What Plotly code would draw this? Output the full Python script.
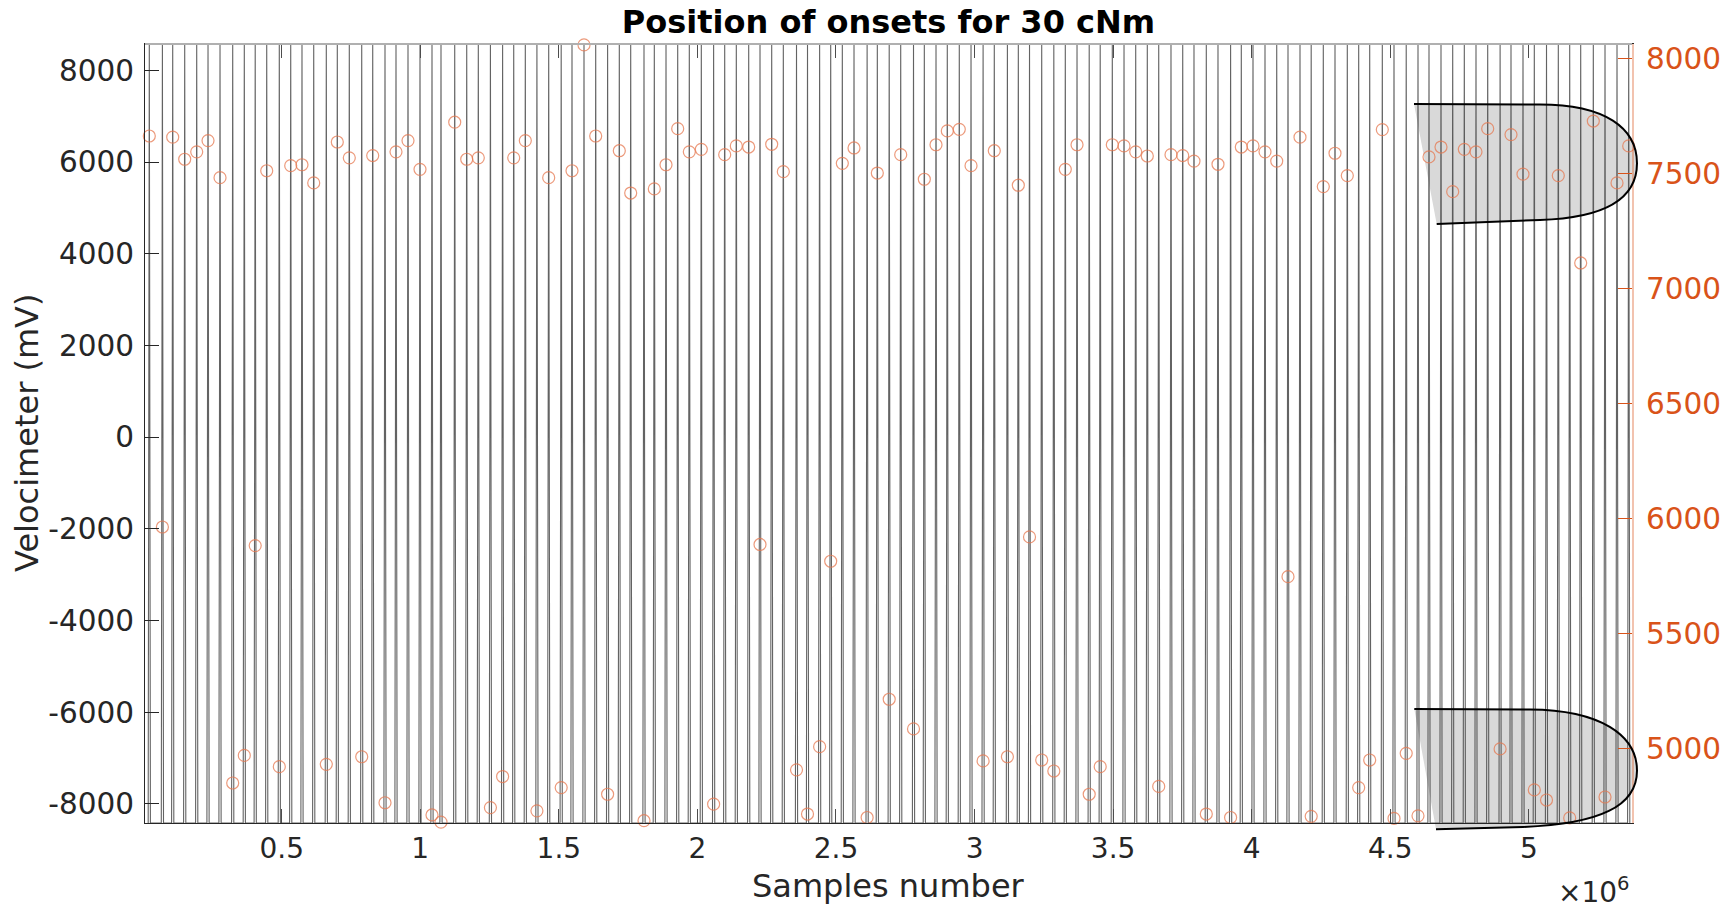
import plotly.graph_objects as go

# ---------------- data ----------------
# sample index of each detected onset (one per velocimeter cycle)
onset_samples = [
    22200, 69500, 106700, 150000, 193300, 234100, 277400, 323200, 365000, 404400,
    445900, 491300, 532500, 573200, 615500, 660900, 700600, 743900, 788700, 828400,
    872700, 912400, 955700, 999000, 1042300, 1074800, 1124300, 1167600, 1209400, 1253100,
    1297100, 1337200, 1379000, 1420900, 1463400, 1508500, 1547500, 1590800, 1633000, 1676000,
    1718200, 1759300, 1807300, 1844500, 1886700, 1928900, 1970800, 2014100, 2058500, 2098500,
    2140400, 2185100, 2225900, 2268100, 2310000, 2357600, 2397300, 2441000, 2481000, 2522900,
    2565100, 2612400, 2649200, 2692100, 2733600, 2779800, 2818800, 2861000, 2901700, 2945000,
    2987300, 3030900, 3071300, 3118600, 3158000, 3198400, 3242400, 3286100, 3327500, 3369800,
    3413800, 3453500, 3497100, 3539400, 3581600, 3623400, 3664600, 3708900, 3751200, 3791900,
    3836300, 3878500, 3924000, 3962600, 4004800, 4048100, 4090400, 4131100, 4174400, 4214800,
    4258500, 4300700, 4345100, 4386200, 4425900, 4471400, 4513600, 4557700, 4600200, 4639900,
    4683200, 4725400, 4767300, 4809500, 4851700, 4896500, 4935800, 4979100, 5019900, 5063900,
    5106500, 5147600, 5187300, 5232800, 5275000, 5318300, 5360500,
]
# onset position value (right axis)
onset_values = [
    7662, 5962, 7657, 7561, 7593, 7642, 7481, 4849, 4969, 5881,
    7511, 4920, 7533, 7537, 7458, 4930, 7636, 7567, 4963, 7577,
    4763, 7593, 7642, 7517, 4710, 4679, 7722, 7561, 7567, 4742,
    4877, 7567, 7642, 4728, 7481, 4829, 7511, 8058, 7662, 4800,
    7598, 7414, 4685, 7432, 7537, 7694, 7593, 7604, 4757, 7581,
    7619, 7614, 5886, 7626, 7507, 4906, 4714, 5007, 5813, 7543,
    7610, 4699, 7501, 5213, 7581, 5084, 7474, 7624, 7684, 7691,
    7533, 4945, 7598, 4963, 7448, 5919, 4949, 4901, 7517, 7624,
    4800, 4920, 7624, 7619, 7593, 7575, 4834, 7581, 7577, 7553,
    4714, 7539, 4699, 7614, 7619, 7593, 7553, 5746, 7657, 4704,
    7442, 7587, 7490, 4829, 4949, 7690, 4695, 4978, 4706, 7571,
    7614, 7420, 7604, 7593, 7694, 4997, 7668, 7496, 4819, 4775,
    7490, 4697, 7110, 7727, 4788, 7458, 7619,
]
velo_min, velo_max = -8417, 8574          # velocimeter extremes (mV)
spike_half_width = 4000                   # samples, half width of each velocimeter stroke
x_range = [6700, 5372400]
right_range = [4675, 8062]
x_tick_vals = [500000, 1000000, 1500000, 2000000, 2500000, 3000000, 3500000, 4000000, 4500000, 5000000]
x_tick_text = ["0.5", "1", "1.5", "2", "2.5", "3", "3.5", "4", "4.5", "5"]
left_tick_vals = [-8000, -6000, -4000, -2000, 0, 2000, 4000, 6000, 8000]
left_tick_text = ["-8000", "-6000", "-4000", "-2000", "0", "2000", "4000", "6000", "8000"]
right_tick_vals = [5000, 5500, 6000, 6500, 7000, 7500, 8000]
right_tick_text = ["5000", "5500", "6000", "6500", "7000", "7500", "8000"]

# ---------------- velocimeter trace built from the onset cycles ----------------
sig_x, sig_y = [], []
for s in onset_samples:
    sig_x += [s - spike_half_width, s, s + spike_half_width]
    sig_y += [velo_min, velo_max, velo_min]

W, H = 1732, 911
PL, PR, PT, PB = 145, 1632, 44, 823
FONT = "DejaVu Sans"
ORANGE = "#D95319"


def px(x):
    return (x - PL) / (PR - PL)


def py(y):
    return (PB - y) / (PB - PT)


fig = go.Figure()
fig.add_trace(go.Scatter(
    x=sig_x, y=sig_y, mode="lines",
    line=dict(color="rgba(60,60,60,0.8)", width=1.1),
    hoverinfo="skip", showlegend=False,
))
fig.add_trace(go.Scatter(
    x=onset_samples, y=onset_values, mode="markers", yaxis="y2",
    marker=dict(symbol="circle-open", size=12, color="rgba(230,120,80,0.75)",
                line=dict(width=1.2)),
    cliponaxis=False, showlegend=False,
))


def pathstr(pts, close):
    out = []
    for cmd, p in pts:
        out.append(cmd + " " + " ".join(f"{px(a):.5f},{py(b):.5f}" for a, b in p))
    s = " ".join(out)
    return s + (" Z" if close else "")


blobs = [
    [("M", [(1414, 104)]), ("L", [(1540, 104.5)]),
     ("C", [(1605, 104.5), (1637, 128), (1637, 163.3)]),
     ("C", [(1637, 199), (1605, 218), (1540, 220)]), ("L", [(1436.7, 224)])],
    [("M", [(1414.3, 709)]), ("L", [(1530, 709.5)]),
     ("C", [(1600, 710), (1637, 735), (1637, 770.7)]),
     ("C", [(1637, 806), (1600, 824), (1523, 827)]), ("L", [(1436, 829.3)])],
]
shapes = []
for b in blobs:
    shapes.append(dict(type="path", xref="paper", yref="paper", path=pathstr(b, True),
                       fillcolor="#d9d9d9", line=dict(width=0), layer="below"))
    shapes.append(dict(type="path", xref="paper", yref="paper", path=pathstr(b, False),
                       fillcolor="rgba(0,0,0,0)", line=dict(color="black", width=2), layer="above"))
shapes.append(dict(type="line", xref="paper", yref="paper", x0=0, x1=1, y0=1, y1=1,
                   line=dict(color="#b0b0b0", width=2)))

fig.update_layout(
    width=W, height=H,
    margin=dict(l=PL, r=W - PR, t=PT, b=H - PB),
    paper_bgcolor="white", plot_bgcolor="white",
    font=dict(family=FONT, size=28, color="#262626"),
    title=dict(text="<b>Position of onsets for 30 cNm</b>", x=px((PL + PR) / 2), xref="paper",
               y=1 - 22 / H, yanchor="middle", xanchor="center",
               font=dict(family=FONT, size=32, color="black")),
    xaxis=dict(range=x_range, tickvals=x_tick_vals, ticktext=x_tick_text,
               ticks="inside", ticklen=14, tickcolor="#4d4d4d", showline=True,
               linecolor="#262626", linewidth=1, mirror="ticks", showgrid=False,
               zeroline=False, tickfont=dict(size=28, color="#262626")),
    yaxis=dict(range=[velo_min, velo_max], tickvals=left_tick_vals, ticktext=left_tick_text,
               ticks="inside", ticklen=14, tickcolor="#262626", showline=True,
               linecolor="#262626", linewidth=1, showgrid=False, zeroline=False,
               tickfont=dict(size=29.5, color="#262626"), ticklabelstandoff=4),
    yaxis2=dict(range=right_range, tickvals=right_tick_vals, ticktext=right_tick_text,
                overlaying="y", side="right",
                ticks="inside", ticklen=14, tickcolor=ORANGE, showline=True,
                linecolor="rgba(217,83,25,0.35)", linewidth=2, showgrid=False, zeroline=False,
                tickfont=dict(size=29.5, color=ORANGE), ticklabelstandoff=6),
    shapes=shapes,
    annotations=[
        dict(text="Samples number", xref="paper", yref="paper", x=px((PL + PR) / 2), y=py(886),
             xanchor="center", yanchor="middle", showarrow=False,
             font=dict(family=FONT, size=32, color="#262626")),
        dict(text="Velocimeter (mV)", xref="paper", yref="paper", x=px(27), y=py(433),
             xanchor="center", yanchor="middle", textangle=-90, showarrow=False,
             font=dict(family=FONT, size=32, color="#262626")),
        dict(text="×10<sup>6</sup>", xref="paper", yref="paper", x=1.0, y=py(891),
             xanchor="right", yanchor="middle", showarrow=False,
             font=dict(family=FONT, size=28, color="#262626")),
    ],
)

fig.write_html("out.html")
